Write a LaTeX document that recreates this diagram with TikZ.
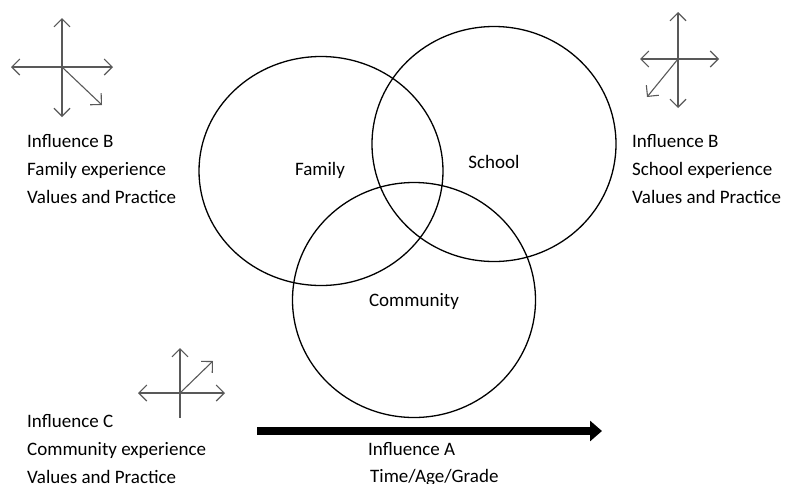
\documentclass[tikz,border=0pt]{standalone}
\usepackage{fontspec}
\setmainfont{Carlito}
\usetikzlibrary{arrows.meta,shapes.geometric,positioning}
\tikzset{
  sphere/.style = {draw, ellipse, line width=1.3pt, inner sep=0pt},
  arm/.style    = {draw=black!65, line width=1.1pt, -{Straight Barb[length=8pt,width=16pt]}},
  txt/.style    = {anchor=base west, inner sep=0pt, font=\fontsize{19}{22}\selectfont}
}
\begin{document}
\begin{tikzpicture}[x=1pt,y=-1pt]
  \useasboundingbox (0,0) rectangle (785,483);

  % the three spheres of influence
  \node[sphere, minimum width=244, minimum height=229] (family)    at (321,171) {};
  \node[sphere, minimum width=244, minimum height=235] (school)    at (494,144) {};
  \node[sphere, minimum width=243, minimum height=235] (community) at (414,300) {};
  \node[txt, anchor=center] (familyL)    at (320,170) {Family};
  \node[txt, anchor=center] (schoolL)    at (494,162) {School};
  \node[txt, anchor=center] (communityL) at (414,301) {Community};

  % direction crosses
  \coordinate (c1) at (62,67);
  \draw[arm] (c1) -- (62,18);  \draw[arm] (c1) -- (62,117);
  \draw[arm] (c1) -- (11,67);  \draw[arm] (c1) -- (113,67);
  \draw[arm] (c1) -- (102,105);

  \coordinate (c2) at (678,59);
  \draw[arm] (c2) -- (678,12);  \draw[arm] (c2) -- (678,108);
  \draw[arm] (c2) -- (640,59);  \draw[arm] (c2) -- (719,59);
  \draw[arm] (c2) -- (647,97);

  \coordinate (c3) at (180,393);
  \draw[arm] (c3) -- (180,348);  \draw[arm,-] (c3) -- (180,418);
  \draw[arm] (c3) -- (138,393);  \draw[arm] (c3) -- (225,393);
  \draw[arm] (c3) -- (213,361);

  % text blocks
  \foreach \t [count=\i] in {Influence B,Family experience,Values and Practice}
    \node[txt] (famT\i) at (27,119+28*\i) {\t};
  \foreach \t [count=\i] in {Influence B,School experience,Values and Practice}
    \node[txt] (schT\i) at (632,119+28*\i) {\t};
  \foreach \t [count=\i] in {Influence C,Community experience,Values and Practice}
    \node[txt] (comT\i) at (27,399+28*\i) {\t};

  % time axis
  \coordinate (timeS) at (257,431);
  \coordinate (timeE) at (602,431);
  \draw[line width=8pt, -{Triangle[length=12pt,width=20pt]}] (timeS) -- (timeE);
  \node[txt] (timeA) at (368,455) {Influence A};
  \node[txt] (timeB) at (370,482) {Time/Age/Grade};
\end{tikzpicture}
\end{document}
